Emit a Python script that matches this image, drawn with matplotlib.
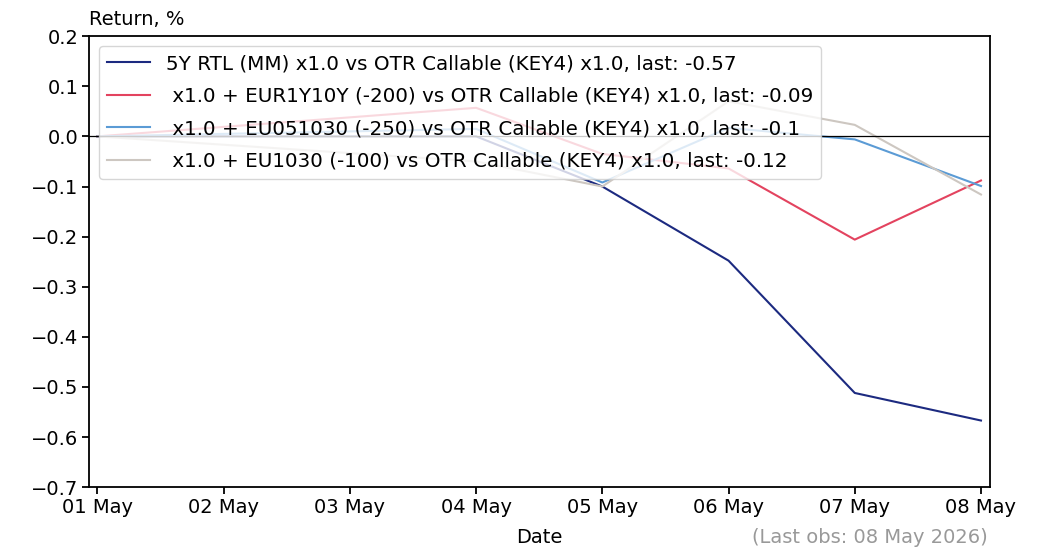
import matplotlib

matplotlib.use("Agg")
import matplotlib.dates as mdates
import matplotlib.pyplot as plt
import numpy as np

dates = np.array(
    ["2026-05-01", "2026-05-04", "2026-05-05", "2026-05-06", "2026-05-07", "2026-05-08"],
    dtype="datetime64[D]",
)

rtl_5y = [0.0, 0.0, -0.10, -0.248, -0.512, -0.567]
eur1y10y = [0.0, 0.057, -0.035, -0.064, -0.206, -0.088]
eu051030 = [0.0, 0.015, -0.092, 0.017, -0.006, -0.099]
eu1030 = [0.0, -0.05, -0.10, 0.07, 0.023, -0.116]

labels = [
    "5Y RTL (MM) x1.0 vs OTR Callable (KEY4) x1.0, last: -0.57",
    " x1.0 + EUR1Y10Y (-200) vs OTR Callable (KEY4) x1.0, last: -0.09",
    " x1.0 + EU051030 (-250) vs OTR Callable (KEY4) x1.0, last: -0.1",
    " x1.0 + EU1030 (-100) vs OTR Callable (KEY4) x1.0, last: -0.12",
]
colors = ["#1c2a80", "#e3435f", "#5b9bd5", "#cdc7c1"]

plt.rcParams["font.size"] = 14
plt.rcParams["axes.linewidth"] = 1.3
plt.rcParams["xtick.major.size"] = 5
plt.rcParams["ytick.major.size"] = 5
plt.rcParams["xtick.major.width"] = 1.3
plt.rcParams["ytick.major.width"] = 1.3
plt.rcParams["xtick.major.pad"] = 2.5
plt.rcParams["ytick.major.pad"] = 2.5

fig, ax = plt.subplots(figsize=(10.43, 5.48), dpi=100)
fig.subplots_adjust(left=0.085, right=0.949, top=0.934, bottom=0.111)

for series, color, label in zip([rtl_5y, eur1y10y, eu051030, eu1030], colors, labels):
    ax.plot(dates, series, color=color, linewidth=1.5, label=label)

ax.axhline(0, color="black", linewidth=0.9)

ax.set_ylim(-0.7, 0.2)
ax.set_yticks(np.arange(-0.7, 0.21, 0.1))
ax.margins(x=0.01)
ax.xaxis.set_major_locator(mdates.DayLocator())
ax.xaxis.set_major_formatter(mdates.DateFormatter("%d %b"))

ax.set_title("Return, %", loc="left", fontsize=14, pad=8)
ax.set_xlabel("Date", labelpad=8)
fig.text(0.947, 0.002, "(Last obs: 08 May 2026)", ha="right", va="bottom",
         color="#999999", fontsize=14)

ax.legend(loc="upper left", fontsize=14.3, handlelength=2.2, labelspacing=0.68)

fig.savefig("out.png", dpi=100)
plt.close(fig)
